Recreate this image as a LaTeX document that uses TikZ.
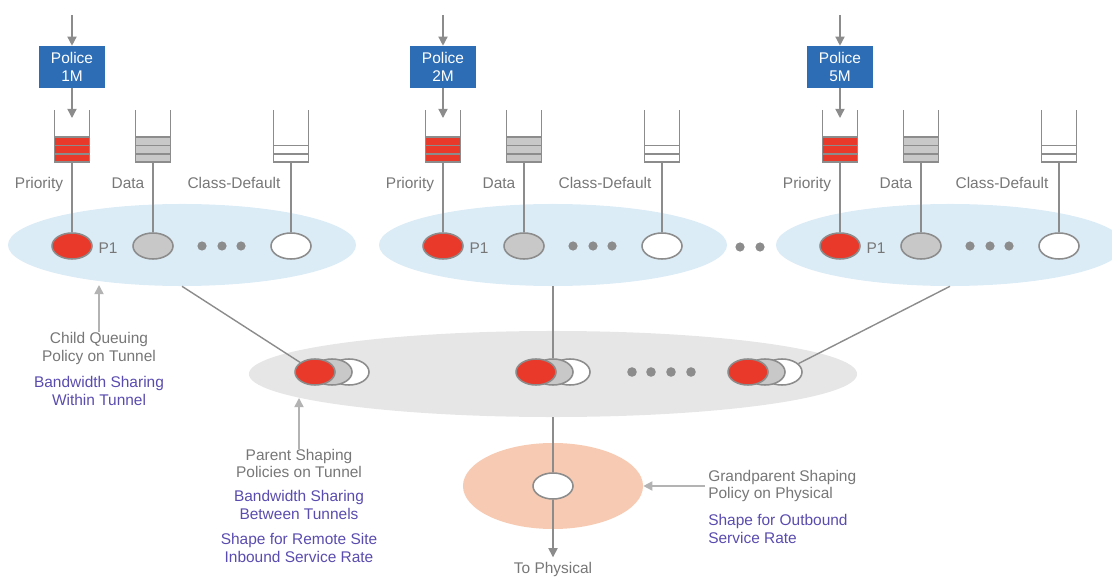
\documentclass[tikz,border=0pt]{standalone}
\usepackage{fontspec}
\setmainfont{Liberation Sans}
\usetikzlibrary{shapes.geometric,arrows.meta}
\definecolor{policeblue}{HTML}{2C6DB6}
\definecolor{tunnelblue}{HTML}{DCECF6}
\definecolor{parentgray}{HTML}{E6E6E6}
\definecolor{physorange}{HTML}{F7CBB3}
\definecolor{qred}{HTML}{E8392A}
\definecolor{qgray}{HTML}{C8C8C8}
\definecolor{linegray}{HTML}{8C8C8C}
\definecolor{notegray}{HTML}{B3B3B3}
\definecolor{labelgray}{HTML}{777777}
\definecolor{notepurple}{HTML}{5A4CAF}

\begin{document}
\begin{tikzpicture}[x=0.025cm,y=-0.025cm,
    every node/.style={font=\fontsize{11}{12.4}\selectfont,text=labelgray,inner sep=0pt,align=center},
    police/.style={rectangle,fill=policeblue,text=white,minimum width=1.65cm,minimum height=1.05cm},
    slot/.style={ellipse,draw=linegray,line width=1.1pt,minimum width=1cm,minimum height=0.65cm},
    wall/.style={draw=linegray,line width=1.3pt},
    link/.style={draw=linegray,line width=1pt},
    flow/.style={draw=linegray,line width=1pt,-{Triangle[length=6.5pt,width=6.5pt]}},
    note/.style={draw=notegray,line width=1.2pt,-{Triangle[length=6.5pt,width=6.5pt]}},
    remark/.style={text=notepurple}]
    \useasboundingbox (0,0) rectangle (1112,577);
    \clip (0,0) rectangle (1112,577);

    % parent and grandparent levels
    \node[ellipse,fill=parentgray,minimum width=15.2cm,minimum height=2.15cm] (pg) at (553,374) {};
    \node[ellipse,fill=physorange,minimum width=4.5cm,minimum height=2.15cm] (gp) at (553,486) {};

    % one tunnel per group
    \foreach \dx/\rate/\g in {0/1M/a,371/2M/b,768/5M/c} {
        \node[ellipse,fill=tunnelblue,minimum width=8.7cm,minimum height=2.05cm] (cq\g) at (182+\dx,245) {};
        \node[police] (pol\g) at (72+\dx,67) {Police\\\rate};
        \coordinate (in\g) at (72+\dx,15);
        \coordinate (qin\g) at (72+\dx,118);
        \draw[flow] (in\g) -- (pol\g);
        \draw[flow] (pol\g) -- (qin\g);
        \foreach \qx/\qc/\qt/\q in {72/qred/137/p,153/qgray/137/d,291/white/145.5/b} {
            \fill[\qc] (\qx+\dx-17.5,\qt) rectangle (\qx+\dx+17.5,162);
            \foreach \ly in {\qt,145.5,154}
                \draw[wall] (\qx+\dx-17.5,\ly) -- (\qx+\dx+17.5,\ly);
            \draw[wall] (\qx+\dx-17.5,110) -- (\qx+\dx-17.5,162) -- (\qx+\dx+17.5,162) -- (\qx+\dx+17.5,110);
            \coordinate (qb\q\g) at (\qx+\dx,162);
            \node[slot,fill=\qc] (s\q\g) at (\qx+\dx,246) {};
            \draw[link] (qb\q\g) -- (s\q\g);
        }
        \node[anchor=base] (lp\g) at (39+\dx,189) {Priority};
        \node[anchor=base] (ld\g) at (128+\dx,189) {Data};
        \node[anchor=base] (lb\g) at (234+\dx,189) {Class-Default};
        \node (p\g) at (108+\dx,248) {P1};
        \foreach \d in {202,222,241}
            \fill[linegray] (\d+\dx,246) circle (0.115cm);
    }
    \foreach \d in {740,760}
        \fill[linegray] (\d,247) circle (0.115cm);

    % shaped tunnels
    \foreach \rx/\t in {315/a,536/b,748/c} {
        \node[slot,fill=white] (tw\t) at (\rx+34,372) {};
        \node[slot,fill=qgray] (tg\t) at (\rx+17,372) {};
        \node[slot,fill=qred] (tr\t) at (\rx,372) {};
    }
    \foreach \d in {632,651,671,691}
        \fill[linegray] (\d,372) circle (0.12cm);
    \draw[link] (cqa.south) -- (tra);
    \draw[link] (cqb.south) -- (tgb);
    \draw[link] (cqc.south) -- (twc);

    % physical
    \node[slot,fill=white] (phys) at (553,486) {};
    \node (tophys) at (553,569) {To Physical};
    \draw[link] (pg.south) -- (phys);
    \draw[flow,shorten >=3pt] (phys) -- (tophys.north);

    % notes
    \node (cqnote) at (99,348.5) {Child Queuing\\Policy on Tunnel};
    \node[remark] (cqgain) at (99,391) {Bandwidth Sharing\\Within Tunnel};
    \coordinate (cqtip) at (99,285);
    \draw[note] (cqnote.north) -- (cqtip);

    \node (psnote) at (299,463.5) {Parent Shaping\\Policies on Tunnel};
    \node[remark] (psgain) at (299,505) {Bandwidth Sharing\\Between Tunnels};
    \node[remark] (psrate) at (299,548) {Shape for Remote Site\\Inbound Service Rate};
    \coordinate (pstip) at (299,398);
    \draw[note] (psnote.north) -- (pstip);

    \node[anchor=west,align=left] (gpnote) at (708,486) {Grandparent Shaping\\Policy on Physical};
    \node[anchor=west,align=left,remark] (gprate) at (708,529) {Shape for Outbound\\Service Rate};
    \draw[note] ([xshift=-2pt]gpnote.west) -- (gp.east);
\end{tikzpicture}
\end{document}
